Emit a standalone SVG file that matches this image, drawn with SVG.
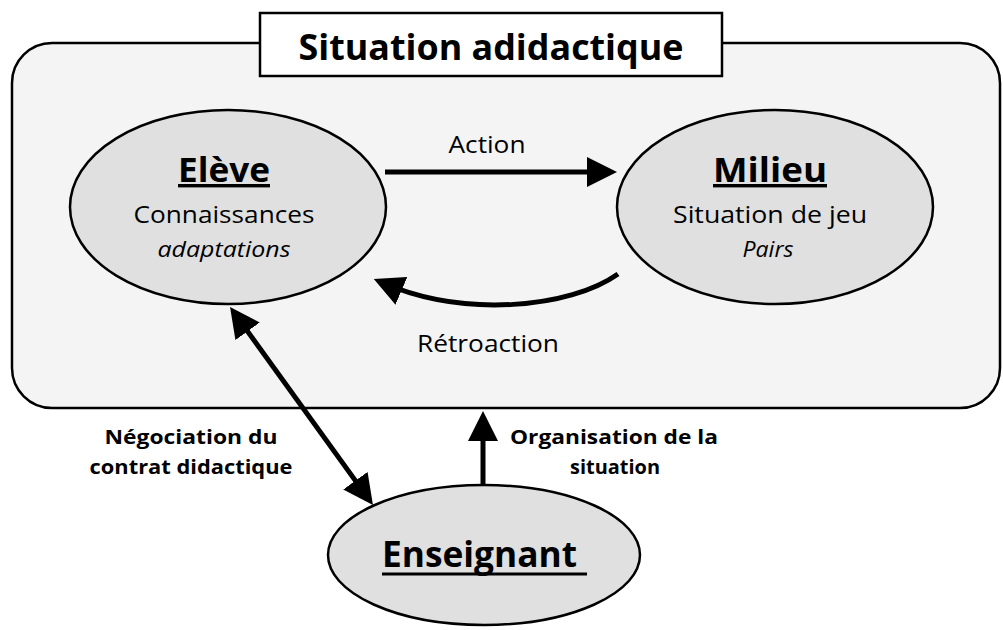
<svg xmlns="http://www.w3.org/2000/svg" width="1003" height="630" viewBox="0 0 1003 630">
<style>
.box{fill:#f4f4f4;stroke:#000;stroke-width:2.5}
.title{fill:#fff;stroke:#000;stroke-width:2.5}
.node{fill:#e0e0e0;stroke:#000;stroke-width:2.5}
.t{font-family:"Open Sans","Liberation Sans",sans-serif;fill:#000}
.h{font-weight:bold;font-size:34px;text-decoration:underline}
.s{font-size:24px}
.i{font-size:22px;font-style:italic}
.lb{font-weight:bold;font-size:19px}
.ln{font-size:23px}
.c{fill:none;stroke:#000;stroke-width:5}
</style>
<defs>
<marker id="ah" markerUnits="userSpaceOnUse" markerWidth="30" markerHeight="30" refX="20" refY="15" orient="auto-start-reverse" viewBox="0 0 30 30">
<path d="M0,0 L30,15 L0,30 Z" fill="#000"/>
</marker>
</defs>
<g id="frame">
<rect class="box" x="12" y="43" width="988" height="365" rx="40"/>
<rect class="title" x="260" y="13" width="462" height="63"/>
<text class="t" x="491" y="60" text-anchor="middle" font-size="35" font-weight="bold" textLength="385" lengthAdjust="spacingAndGlyphs">Situation adidactique</text>
</g>
<g id="eleve">
<ellipse class="node" cx="228" cy="207" rx="158" ry="97"/>
<text class="t h" x="224" y="182" text-anchor="middle" textLength="92" lengthAdjust="spacingAndGlyphs">Elève</text>
<text class="t s" x="224" y="223" text-anchor="middle" textLength="181" lengthAdjust="spacingAndGlyphs">Connaissances</text>
<text class="t i" x="224" y="257" text-anchor="middle" textLength="133" lengthAdjust="spacingAndGlyphs">adaptations</text>
</g>
<g id="milieu">
<ellipse class="node" cx="775" cy="207" rx="158" ry="97"/>
<text class="t h" x="770" y="182" text-anchor="middle" textLength="114" lengthAdjust="spacingAndGlyphs">Milieu</text>
<text class="t s" x="770" y="223" text-anchor="middle" textLength="194" lengthAdjust="spacingAndGlyphs">Situation de jeu</text>
<text class="t i" x="768" y="257" text-anchor="middle" textLength="51" lengthAdjust="spacingAndGlyphs">Pairs</text>
</g>
<g id="enseignant">
<ellipse class="node" cx="484" cy="555" rx="156" ry="70"/>
<text class="t" x="382" y="567" font-size="35" font-weight="bold" textLength="195" lengthAdjust="spacingAndGlyphs">Enseignant</text>
<line x1="382" y1="574" x2="587" y2="574" stroke="#000" stroke-width="3"/>
</g>
<g id="connectors">
<path class="c" d="M385,172 L607,172" marker-end="url(#ah)"/>
<path class="c" d="M618,274 C570,308 465,318 383,283" marker-end="url(#ah)"/>
<path class="c" d="M235.9,315.1 L367.1,496.9" marker-start="url(#ah)" marker-end="url(#ah)"/>
<path class="c" d="M483,485 L483,421" marker-end="url(#ah)"/>
</g>
<g id="labels">
<text class="t ln" x="487" y="153" text-anchor="middle" textLength="77" lengthAdjust="spacingAndGlyphs">Action</text>
<text class="t ln" x="488" y="352" text-anchor="middle" textLength="142" lengthAdjust="spacingAndGlyphs">Rétroaction</text>
<text class="t lb" x="191" y="444" text-anchor="middle" textLength="173" lengthAdjust="spacingAndGlyphs">Négociation du</text>
<text class="t lb" x="191" y="474" text-anchor="middle" textLength="203" lengthAdjust="spacingAndGlyphs">contrat didactique</text>
<text class="t lb" x="614" y="444" text-anchor="middle" textLength="208" lengthAdjust="spacingAndGlyphs">Organisation de la</text>
<text class="t lb" x="615" y="474" text-anchor="middle" textLength="90" lengthAdjust="spacingAndGlyphs">situation</text>
</g>
</svg>
